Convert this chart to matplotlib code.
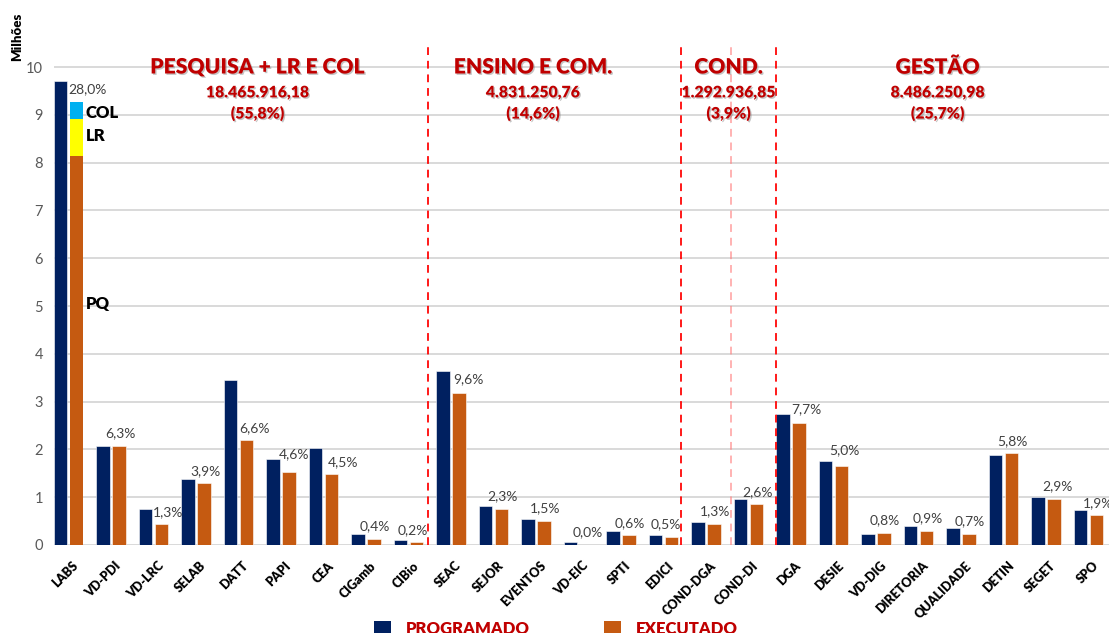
import matplotlib
matplotlib.use("Agg")
import matplotlib.pyplot as plt
import matplotlib.patheffects as pe
from matplotlib.patches import Patch
from matplotlib.transforms import ScaledTranslation
import numpy as np

plt.rcParams['font.family'] = ['Lato', 'DejaVu Sans']

# ---- data (R$ millions) ----
categories = ['LABS', 'VD-PDI', 'VD-LRC', 'SELAB', 'DATT', 'PAPI', 'CEA', 'CIGamb', 'CIBio',
              'SEAC', 'SEJOR', 'EVENTOS', 'VD-EIC', 'SPTI', 'EDICI',
              'COND-DGA', 'COND-DI',
              'DGA', 'DESIE', 'VD-DIG', 'DIRETORIA', 'QUALIDADE', 'DETIN', 'SEGET', 'SPO']
programado = [9.71, 2.07, 0.75, 1.38, 3.46, 1.79, 2.03, 0.22, 0.10,
              3.63, 0.81, 0.54, 0.06, 0.29, 0.20,
              0.48, 0.97,
              2.74, 1.76, 0.24, 0.39, 0.36, 1.88, 1.01, 0.74]
executado = [9.26, 2.08, 0.43, 1.29, 2.19, 1.53, 1.49, 0.13, 0.06,
             3.19, 0.75, 0.50, 0.00, 0.20, 0.16,
             0.44, 0.85,
             2.55, 1.66, 0.26, 0.29, 0.24, 1.92, 0.96, 0.62]
# LABS executed amount split into research (PQ), LR and COL
labs_parts = ['PQ', 'LR', 'COL']
labs_values = [8.14, 0.77, 0.35]

group_names = ['PESQUISA + LR E COL', 'ENSINO E COM.', 'COND.', 'GESTÃO']
group_totals = [18465916.18, 4831250.76, 1292936.85, 8486250.98]

# ---- style ----
NAVY = '#002060'
ORANGE = '#C55A11'
YELLOW = '#FFFF00'
CYAN = '#00B0F0'
DARKRED = '#C00000'
W = 0.315
OFF = 0.19
# per-label nudges (pixels) for percentage labels placed by hand
label_nudge = {'LABS': (11, 13), 'VD-LRC': (7, 12.5), 'DATT': (8, 12.5), 'PAPI': (5, 18),
               'CEA': (11, 12), 'CIBio': (-4, 12), 'SEAC': (9, 13.5), 'EDICI': (-5.5, 13),
               'DGA': (7, 14), 'DESIE': (2.5, 15), 'SEGET': (3.5, 12.5)}
default_nudge = (1, 12.5)

def br_money(v):
    s = f"{v:,.2f}"
    return s.replace(',', 'X').replace('.', ',').replace('X', '.')

def br_pct(v, nd=1):
    return f"{v:.{nd}f}".replace('.', ',') + '%'

total_exec = sum(group_totals) / 1e6

fig = plt.figure(figsize=(11.09, 6.33), dpi=100)
FW, FH = 1109, 633
ax_left, ax_bottom, ax_top = 54, 545, 45.5
ax = fig.add_axes([ax_left / FW, 1 - ax_bottom / FH, 1 - ax_left / FW, (ax_bottom - ax_top) / FH])

x = np.arange(len(categories))
ax.bar(x - OFF, programado, W, color=NAVY, edgecolor='white', linewidth=0.4, zorder=3)

# executed bars (LABS drawn as a stack)
exec_arr = np.array(executado, dtype=float)
ax.bar(x[1:] + OFF, exec_arr[1:], W, color=ORANGE, edgecolor='white', linewidth=0.4, zorder=3)
bottom = 0.0
for part, val, col in zip(labs_parts, labs_values, [ORANGE, YELLOW, CYAN]):
    ax.bar(x[0] + OFF, val, W, bottom=bottom, color=col, linewidth=0, zorder=3)
    bottom += val

# part labels next to the LABS stack
label_y = {'COL': 9.04, 'LR': 8.56, 'PQ': 5.04}
for part in labs_parts:
    ax.text(x[0] + OFF + 0.22, label_y[part], part, fontsize=12, fontweight='heavy',
            color='black', ha='left', va='center', zorder=5)

# percentage labels above executed bars
for cat, xi, v in zip(categories, x, executado):
    dx, dy = label_nudge.get(cat, default_nudge)
    ax.annotate(br_pct(v / total_exec * 100), (xi + OFF, v), xytext=(dx, dy),
                textcoords='offset pixels', ha='center', va='center',
                fontsize=10, color='#404040', zorder=5)

# axes styling
ax.set_xlim(-0.34, 24.48)
ax.set_ylim(0, 10.45)
ax.set_yticks(range(0, 11))
ax.yaxis.grid(True, color='#D9D9D9', linewidth=1.4, zorder=0)
ax.set_axisbelow(True)
for s in ax.spines.values():
    s.set_visible(False)
ax.tick_params(axis='y', length=0, pad=8, labelsize=10.5, labelcolor='#595959')
ax.tick_params(axis='x', length=0, pad=13.5)
ax.set_xticks(x)
ax.set_xticklabels(categories, rotation=45, ha='right', va='center',
                   rotation_mode='anchor', fontsize=9, fontweight='heavy', color='black')
shift = ScaledTranslation(8 / 100, 0, fig.dpi_scale_trans)
for lbl in ax.get_xticklabels():
    lbl.set_transform(lbl.get_transform() + shift)

fig.text(17 / FW, 1 - 37 / FH, 'Milhões', rotation=90, ha='center', va='center',
         fontsize=9.5, fontweight='heavy', color='black')

# group separators
sep_lines = [(8.46, '#FF0000', 0.9), (14.41, '#FF0000', 0.9), (15.58, '#FF8080', 0.6), (16.65, '#FF0000', 0.9)]
for xs, col, a in sep_lines:
    ax.plot([xs, xs], [0, 10.42], color=col, alpha=a, linewidth=1.4,
            dashes=(4, 3), zorder=4, clip_on=False)

# group headings
shadow = [pe.SimplePatchShadow(offset=(1, -1), shadow_rgbFace='#808080', alpha=0.45), pe.Normal()]
group_centers = [4.45, 10.93, 15.53, 20.45]
for name, tot, cx in zip(group_names, group_totals, group_centers):
    ax.text(cx, 10.0, name, ha='center', va='center', fontsize=15.2, fontweight='heavy',
            color=DARKRED, path_effects=shadow, zorder=6)
    ax.text(cx, 9.47, br_money(tot), ha='center', va='center', fontsize=11.4, fontweight='heavy',
            color=DARKRED, path_effects=shadow, zorder=6)
    ax.text(cx, 9.03, '(' + br_pct(tot / 1e6 / total_exec * 100) + ')', ha='center', va='center',
            fontsize=11.4, fontweight='heavy', color=DARKRED, path_effects=shadow, zorder=6)

# legend
handles = [Patch(facecolor=NAVY), Patch(facecolor=ORANGE)]
fig.legend(handles, ['PROGRAMADO', 'EXECUTADO'], loc='upper left',
           bbox_to_anchor=(374 / FW, 1 - 621 / FH), ncol=2, frameon=False,
           handlelength=1.02, handleheight=1.02, handletextpad=0.9, columnspacing=4.45,
           borderpad=0, borderaxespad=0,
           prop={'size': 12, 'weight': 'heavy'}, labelcolor=DARKRED)

fig.savefig('out.png', dpi=100)
